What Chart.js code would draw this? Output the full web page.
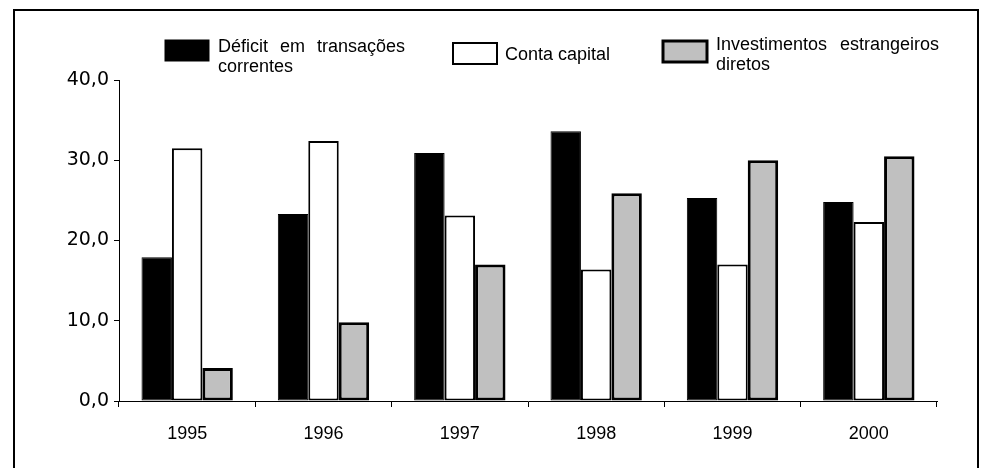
<!DOCTYPE html>
<html>
<head>
<meta charset="utf-8">
<script src="https://cdn.jsdelivr.net/npm/chart.js@4.4.1/dist/chart.umd.min.js"></script>
<style>
  body { margin: 0; background: #fff; overflow: hidden; }
  #wrap { position: relative; width: 984px; height: 468px; overflow: hidden; }
  #moldura { position: absolute; left: 13px; top: 9px; width: 966px; height: 480px;
             box-sizing: border-box; border: 2px solid #000; }
  #grafico { position: absolute; left: 0; top: 0; }
</style>
</head>
<body>
<div id="wrap">
  <div id="moldura"></div>
  <canvas id="grafico" width="984" height="468"></canvas>
</div>
<script>
const anos = ['1995', '1996', '1997', '1998', '1999', '2000']
const deficit = [17.9, 23.3, 30.9, 33.6, 25.3, 24.8]
const conta_capital = [31.5, 32.4, 23.1, 16.4, 17.0, 22.3]
const investimentos = [4.1, 9.8, 17.0, 25.9, 30.0, 30.5]
const nomes = [
  ['Déficit em transações', 'correntes'],
  ['Conta capital'],
  ['Investimentos estrangeiros', 'diretos']
]

// legenda desenhada à mão, como no original (caixas + texto em duas linhas)
const legenda = {
  id: 'legenda',
  afterDraw(chart) {
    const ctx = chart.ctx
    const caixas = [{ x: 165, y: 40 }, { x: 453, y: 43 }, { x: 663, y: 41 }]
    const textos = [{ x: 218, y: 47, esp: '7px' }, { x: 505, y: 55, esp: '0px' }, { x: 716, y: 45, esp: '8px' }]
    ctx.save()
    ctx.font = '18px "Liberation Sans", Arial, sans-serif'
    ctx.textBaseline = 'middle'
    chart.data.datasets.forEach((ds, i) => {
      const c = caixas[i]
      ctx.fillStyle = ds.backgroundColor
      ctx.fillRect(c.x, c.y, 44, 21)
      ctx.lineWidth = ds.borderWidth
      ctx.strokeStyle = '#000'
      ctx.strokeRect(c.x, c.y, 44, 21)
      ctx.fillStyle = '#000'
      ctx.wordSpacing = textos[i].esp
      nomes[i].forEach((linha, j) => {
        ctx.fillText(linha, textos[i].x, textos[i].y + j * 20)
      })
    })
    ctx.restore()
  }
}

window.addEventListener('load', () => {
  new Chart(document.getElementById('grafico'), {
    type: 'bar',
    data: {
      labels: anos,
      datasets: [{
        label: nomes[0].join(' '),
        data: deficit,
        backgroundColor: '#000000',
        borderColor: '#000000',
        borderWidth: 1
      }, {
        label: nomes[1].join(' '),
        data: conta_capital,
        backgroundColor: '#ffffff',
        borderColor: '#000000',
        borderWidth: 2
      }, {
        label: nomes[2].join(' '),
        data: investimentos,
        backgroundColor: '#c0c0c0',
        borderColor: '#000000',
        borderWidth: 3
      }]
    },
    options: {
      responsive: false,
      animation: false,
      datasets: { bar: { categoryPercentage: 0.67, barPercentage: 1, borderSkipped: false } },
      layout: { padding: { top: 80, right: 47, left: 0, bottom: 0 } },
      plugins: { legend: { display: false }, tooltip: { enabled: false } },
      scales: {
        x: {
          grid: { offset: true, drawOnChartArea: false, tickLength: 6, color: '#000' },
          border: { color: '#000', width: 1 },
          ticks: { color: '#000', padding: 16, font: { family: '"Liberation Sans", Arial, sans-serif', size: 18 } },
          afterFit: (s) => { s.height = 67 }
        },
        y: {
          min: 0,
          max: 40,
          grid: { drawOnChartArea: false, tickLength: 5, color: '#000' },
          border: { color: '#000', width: 1 },
          ticks: {
            stepSize: 10,
            color: '#000',
            padding: 5,
            font: { family: '"DejaVu Sans", sans-serif', size: 19 },
            callback: (v) => v.toFixed(1).replace('.', ',')
          },
          afterFit: (s) => { s.width = 119 }
        }
      }
    },
    plugins: [legenda]
  })
})
</script>
</body>
</html>
